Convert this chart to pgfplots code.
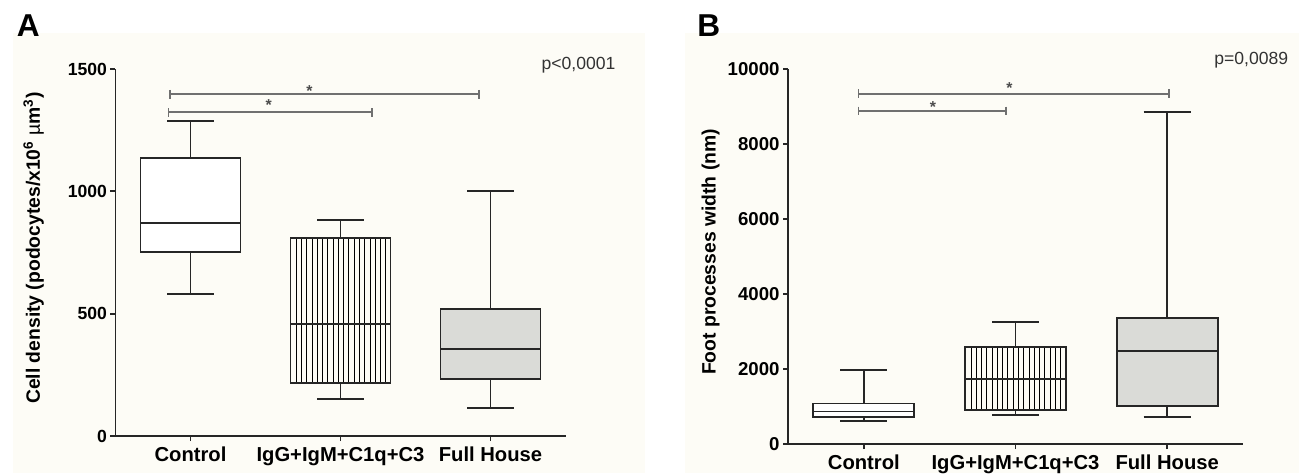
\documentclass[border=0pt]{standalone}
\usepackage{fontspec}
\setmainfont{Liberation Sans}
\usepackage{pgfplots}
\pgfplotsset{compat=1.18}
\usetikzlibrary{patterns}

\definecolor{panelbg}{HTML}{FDFCF6}
\definecolor{fhgray}{HTML}{DADBD7}
\definecolor{sigcol}{HTML}{707070}
\definecolor{pcol}{HTML}{333333}

\pgfplotsset{
  panel/.style={
    scale only axis, clip=false,
    axis x line=bottom, axis y line=left,
    axis line style={-, line width=1.1pt, black!85},
    tick align=outside, major tick length=0.1cm,
    tick style={line width=1.1pt, black!85},
    xmin=0.5, xmax=3.5, ymin=0,
    xtick={1,2,3},
    xticklabels={Control, IgG+IgM+C1q+C3, Full House},
    x tick label style={font=\bfseries\fontsize{11.5}{13}\selectfont},
    y tick label style={font=\bfseries\fontsize{10}{12}\selectfont, inner sep=1.8pt},
    /pgf/number format/assume math mode=true,
    /pgf/number format/1000 sep={},
    scaled y ticks=false,
    ylabel style={font=\bfseries\fontsize{11}{13}\selectfont, anchor=center},
    unbounded coords=jump,
  },
  bx/.style={black!85, line width=1.1pt, solid, mark=none},
  sigbar/.style={sigcol, line width=1pt, mark=|, mark size=2.45pt,
    mark options={solid, line width=1pt}},
}
\tikzset{sigstar/.style={text=black!70, font=\bfseries\fontsize{9}{9}\selectfont, inner sep=0}}

\begin{document}
\begin{tikzpicture}
\path[use as bounding box] (0,0) rectangle (25.98cm,9.46cm);
\fill[panelbg] (0.26cm,0) rectangle (12.9cm,8.8cm);
\fill[panelbg] (13.7cm,0) rectangle (25.98cm,8.8cm);
\node[anchor=base west, inner sep=0, font=\bfseries\fontsize{18}{20}\selectfont] at (0.33cm,8.726cm) {A};
\node[anchor=base west, inner sep=0, font=\bfseries\fontsize{18}{20}\selectfont] at (13.94cm,8.726cm) {B};

% panel A: cell density
\begin{axis}[panel,
  at={(2.31cm,0.74cm)}, anchor=south west,
  width=9.0cm, height=7.34cm,
  ymax=1500, ytick={0,500,1000,1500},
  ylabel={Cell density (podocytes/x10\textsuperscript{6} {\mdseries µ}m\textsuperscript{3})},
  ylabel style={at={(axis description cs:-0.182,0.512)}},
]
% Control
\addplot[bx, fill=white] coordinates {(0.6665,752) (1.3335,752) (1.3335,1136) (0.6665,1136)} -- cycle;
\addplot[bx] coordinates {(0.6665,870) (1.3335,870) (1,nan)
  (1,1136) (1,1287) (1,nan) (0.845,1287) (1.155,1287) (1,nan)
  (1,752) (1,579) (1,nan) (0.845,579) (1.155,579)};
% IgG+IgM+C1q+C3
\addplot[bx, pattern=vertical lines] coordinates {(1.6665,215) (2.3335,215) (2.3335,811) (1.6665,811)} -- cycle;
\addplot[bx] coordinates {(1.6665,456) (2.3335,456) (2,nan)
  (2,811) (2,884) (2,nan) (1.845,884) (2.155,884) (2,nan)
  (2,215) (2,152) (2,nan) (1.845,152) (2.155,152)};
% Full House
\addplot[bx, fill=fhgray] coordinates {(2.6665,234) (3.3335,234) (3.3335,518) (2.6665,518)} -- cycle;
\addplot[bx] coordinates {(2.6665,355) (3.3335,355) (3,nan)
  (3,518) (3,1000) (3,nan) (2.845,1000) (3.155,1000) (3,nan)
  (3,234) (3,114) (3,nan) (2.845,114) (3.155,114)};
% significance brackets
\addplot[sigbar] coordinates {(0.864,1396.6) (2.924,1396.6)};
\addplot[sigbar] coordinates {(0.853,1323) (2.211,1323)};
\node[sigstar] at (axis cs:1.793,1410) {*};
\node[sigstar] at (axis cs:1.522,1352) {*};
\node[anchor=base east, inner sep=0, text=pcol, font=\fontsize{10}{12}\selectfont]
  at (axis cs:3.835,1496) {p<0,0001};
\end{axis}

% panel B: foot process width
\begin{axis}[panel,
  at={(15.76cm,0.58cm)}, anchor=south west,
  width=9.1cm, height=7.5cm,
  ymax=10000, ytick={0,2000,4000,6000,8000,10000},
  y tick label style={font=\bfseries\fontsize{10.6}{12}\selectfont},
  ylabel={Foot processes width (nm)},
  ylabel style={at={(axis description cs:-0.170,0.512)}},
]
% Control
\addplot[bx, fill=white] coordinates {(0.6665,726) (1.3335,726) (1.3335,1080) (0.6665,1080)} -- cycle;
\addplot[bx] coordinates {(0.6665,867) (1.3335,867) (1,nan)
  (1,1080) (1,1982) (1,nan) (0.845,1982) (1.155,1982) (1,nan)
  (1,726) (1,619) (1,nan) (0.845,619) (1.155,619)};
% IgG+IgM+C1q+C3
\addplot[bx, pattern=vertical lines] coordinates {(1.6665,912) (2.3335,912) (2.3335,2593) (1.6665,2593)} -- cycle;
\addplot[bx] coordinates {(1.6665,1735) (2.3335,1735) (2,nan)
  (2,2593) (2,3257) (2,nan) (1.845,3257) (2.155,3257) (2,nan)
  (2,912) (2,779) (2,nan) (1.845,779) (2.155,779)};
% Full House
\addplot[bx, fill=fhgray] coordinates {(2.6665,1009) (3.3335,1009) (3.3335,3363) (2.6665,3363)} -- cycle;
\addplot[bx] coordinates {(2.6665,2487) (3.3335,2487) (3,nan)
  (3,3363) (3,8850) (3,nan) (2.845,8850) (3.155,8850) (3,nan)
  (3,1009) (3,726) (3,nan) (2.845,726) (3.155,726)};
% significance brackets
\addplot[sigbar] coordinates {(0.964,9341) (3.01,9341)};
\addplot[sigbar] coordinates {(0.964,8880) (1.939,8880)};
\node[sigstar] at (axis cs:1.96,9480) {*};
\node[sigstar] at (axis cs:1.456,8990) {*};
\node[anchor=base east, inner sep=0, text=pcol, font=\fontsize{10}{12}\selectfont]
  at (axis cs:3.80,10107) {p=0,0089};
\end{axis}
\end{tikzpicture}
\end{document}
